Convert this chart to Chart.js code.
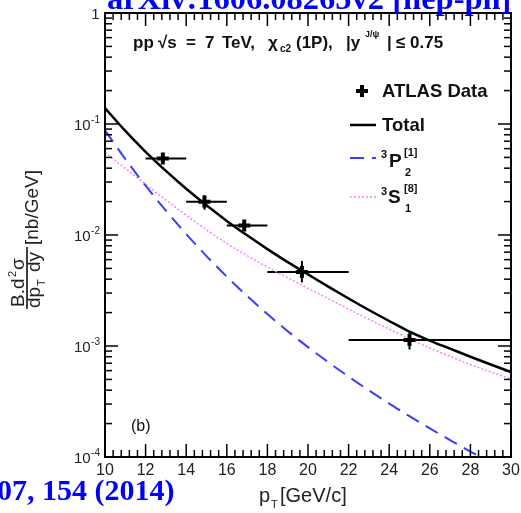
<!DOCTYPE html>
<html>
<head>
<meta charset="utf-8">
<script src="https://cdn.jsdelivr.net/npm/chart.js@4"></script>
<style>
  html, body { margin: 0; padding: 0; background: #fff; }
</style>
</head>
<body>
<canvas id="chart-output" width="521" height="513"></canvas>
<script>
// pT values where the theory curves are sampled
const ptGrid = [10, 11, 12, 13, 14, 15, 16, 17, 18, 19, 20, 21, 22, 23, 24, 25, 26, 27, 28, 29, 30];
// theory curves
const totalCurve = [0.1393, 0.0867, 0.0562, 0.0378, 0.0261, 0.0185, 0.0134, 0.00993, 0.00746, 0.0057, 0.00442, 0.00343, 0.00268, 0.00211, 0.00168, 0.00135, 0.00112, 0.000946, 0.0008, 0.000681, 0.000583];
const p2Curve = [0.0879, 0.0484, 0.0278, 0.0166, 0.0102, 0.00646, 0.00421, 0.00282, 0.00194, 0.00136, 0.000977, 0.000714, 0.00053, 0.000398, 0.000303, 0.000233, 0.000181, 0.000142, 0.000112, 0.0000895, 0.0000721];
const s1Curve = [0.0556, 0.0398, 0.0286, 0.0207, 0.01507, 0.01112, 0.00839, 0.00652, 0.00515, 0.00412, 0.00331, 0.00267, 0.00215, 0.00174, 0.00142, 0.00116, 0.000959, 0.000804, 0.000681, 0.000583, 0.000506];

// ATLAS data points
const dataPt = [12.85, 14.9, 16.86, 19.7, 25.0];
const dataPtLow = [12, 14, 16, 18, 22];
const dataPtHigh = [14, 16, 18, 22, 30];
const dataVal = [0.049, 0.0199, 0.0122, 0.00464, 0.00113];
const dataErrUp = [0.004, 0.003, 0.0012, 0.0012, 0.00022];
const dataErrDown = [0.004, 0.003, 0.0012, 0.0009, 0.0002];

// tick labels
const xTicks = [10, 12, 14, 16, 18, 20, 22, 24, 26, 28, 30];
const yTicks = [1, 0.1, 0.01, 0.001, 0.0001];
const yTickBase = ["1", "10", "10", "10", "10"];
const yTickExp = ["", "-1", "-2", "-3", "-4"];

const sans = '"Liberation Sans", Arial, Helvetica, sans-serif';
const serif = '"Liberation Serif", "Times New Roman", serif';
const blueDash = "#3b3bff";
const pinkDot = "#ff7fff";

// helper: draw a line segment
const seg = (ctx, x1, y1, x2, y2) => {
  ctx.beginPath();
  ctx.moveTo(x1, y1);
  ctx.lineTo(x2, y2);
  ctx.stroke();
};

// helper: draw text pieces at given x with font and baseline
const pieces = (ctx, list) => {
  for (let p of list) {
    ctx.font = p.font;
    ctx.fillText(p.t, p.x, p.y);
  }
};

// error bars for the data points, drawn under the markers
const errorBars = {
  id: "errorBars",
  beforeDatasetsDraw(chart) {
    const { ctx, scales } = chart;
    ctx.save();
    ctx.strokeStyle = "#000";
    ctx.lineWidth = 2;
    dataPt.forEach((pt, i) => {
      const y = scales.y.getPixelForValue(dataVal[i]);
      const x = scales.x.getPixelForValue(pt);
      seg(ctx, scales.x.getPixelForValue(dataPtLow[i]), y, scales.x.getPixelForValue(dataPtHigh[i]), y);
      seg(ctx, x, scales.y.getPixelForValue(dataVal[i] + dataErrUp[i]), x, scales.y.getPixelForValue(dataVal[i] - dataErrDown[i]));
    });
    ctx.restore();
  },
};

// frame, inward ticks, labels, legend and annotations (ROOT style)
const frame = {
  id: "frame",
  afterDraw(chart) {
    const { ctx, chartArea: a, scales } = chart;
    const xs = scales.x;
    const ys = scales.y;
    ctx.save();
    ctx.strokeStyle = "#000";
    ctx.fillStyle = "#000";

    // x ticks every 0.4, major every 2
    ctx.lineWidth = 1.5;
    for (let i = 0; i <= 50; i++) {
      const px = xs.getPixelForValue(10 + i * 0.4);
      const len = i % 5 === 0 ? 13 : 7;
      seg(ctx, px, a.bottom, px, a.bottom - len);
      seg(ctx, px, a.top, px, a.top + len);
    }
    // y ticks on the log scale
    for (let d = -4; d <= 0; d++) {
      for (let k = 1; k <= 9; k++) {
        const v = k * Math.pow(10, d);
        if (v > 1.0001) break;
        const py = ys.getPixelForValue(v);
        const len = k === 1 ? 13 : 7;
        seg(ctx, a.left, py, a.left + len, py);
        seg(ctx, a.right, py, a.right - len, py);
      }
    }
    // frame
    ctx.lineWidth = 2;
    ctx.strokeRect(a.left, a.top, a.right - a.left, a.bottom - a.top);

    // x tick labels
    ctx.fillStyle = "#222";
    ctx.font = "16px " + sans;
    ctx.textAlign = "center";
    ctx.textBaseline = "middle";
    for (let v of xTicks) {
      ctx.fillText(String(v), xs.getPixelForValue(v), 471);
    }

    // y tick labels with superscript exponents
    ctx.textAlign = "left";
    yTicks.forEach((v, i) => {
      const py = ys.getPixelForValue(v);
      const right = 100;
      ctx.font = "10px " + sans;
      const ew = ctx.measureText(yTickExp[i]).width;
      ctx.textBaseline = "alphabetic";
      ctx.fillText(yTickExp[i], right - ew, py - 1);
      ctx.font = "15px " + sans;
      const bw = ctx.measureText(yTickBase[i]).width;
      ctx.textBaseline = "middle";
      ctx.fillText(yTickBase[i], right - ew - bw - 0.5, py + 2);
    });

    // x axis title
    ctx.textBaseline = "alphabetic";
    pieces(ctx, [
      { t: "p", x: 259, y: 502, font: "20px " + sans },
      { t: "T", x: 271, y: 508, font: "11px " + sans },
      { t: "[GeV/c]", x: 280, y: 502, font: "20px " + sans },
    ]);

    // y axis title, rotated fraction
    ctx.save();
    ctx.translate(27, 278);
    ctx.rotate(-Math.PI / 2);
    ctx.lineWidth = 1.5;
    seg(ctx, -31, 0, 31, 0);
    pieces(ctx, [
      { t: "B.d", x: -29, y: -3, font: "19px " + sans },
      { t: "2", x: 1, y: -11, font: "11px " + sans },
      { t: "σ", x: 8, y: -3, font: "19px " + sans },
      { t: "dp", x: -30, y: 13, font: "19px " + sans },
      { t: "T", x: -8, y: 18, font: "11px " + sans },
      { t: "dy", x: 6, y: 13, font: "19px " + sans },
      { t: "[nb/GeV]", x: 33, y: 11, font: "19px " + sans },
    ]);
    ctx.restore();

    // header text inside the frame
    ctx.fillStyle = "#111";
    const hb = "bold 17px " + sans;
    const hs = "bold 10px " + sans;
    pieces(ctx, [
      { t: "pp", x: 133, y: 48, font: hb },
      { t: "√s", x: 158, y: 48, font: hb },
      { t: "=", x: 186, y: 48, font: hb },
      { t: "7", x: 205, y: 48, font: hb },
      { t: "TeV,", x: 222, y: 48, font: hb },
      { t: "χ", x: 268, y: 48, font: hb },
      { t: "c2", x: 280, y: 52, font: hs },
      { t: "(1P),", x: 296, y: 48, font: hb },
      { t: "|y", x: 346, y: 48, font: hb },
      { t: "J/ψ", x: 365, y: 37, font: "bold 9px " + sans },
      { t: "|", x: 387, y: 48, font: hb },
      { t: "≤ 0.75", x: 396, y: 48, font: hb },
    ]);

    // legend
    ctx.strokeStyle = "#000";
    ctx.lineWidth = 4;
    seg(ctx, 356, 91, 368, 91);
    seg(ctx, 362, 85, 362, 97);
    const lb = "bold 18.5px " + sans;
    const ls = "bold 11px " + sans;
    pieces(ctx, [
      { t: "ATLAS Data", x: 382, y: 97, font: lb },
      { t: "Total", x: 382, y: 131, font: lb },
      { t: "3", x: 381, y: 158, font: ls },
      { t: "P", x: 389, y: 167, font: "bold 19px " + sans },
      { t: "[1]", x: 404, y: 156, font: ls },
      { t: "2", x: 405, y: 176, font: ls },
      { t: "3", x: 381, y: 195, font: ls },
      { t: "S", x: 388, y: 203, font: "bold 19px " + sans },
      { t: "[8]", x: 404, y: 192, font: ls },
      { t: "1", x: 405, y: 212, font: ls },
    ]);
    ctx.lineWidth = 2.5;
    seg(ctx, 350, 125, 376, 125);
    ctx.strokeStyle = blueDash;
    ctx.lineWidth = 2;
    ctx.setLineDash([14, 8]);
    seg(ctx, 350, 158, 376, 158);
    ctx.strokeStyle = pinkDot;
    ctx.lineWidth = 1.5;
    ctx.setLineDash([2, 2]);
    seg(ctx, 350, 197, 376, 197);
    ctx.setLineDash([]);

    // panel tag
    ctx.fillStyle = "#111";
    ctx.font = "16px " + sans;
    ctx.textBaseline = "middle";
    ctx.fillText("(b)", 131, 427);

    // stamps around the figure
    ctx.fillStyle = "#0000ff";
    ctx.textBaseline = "alphabetic";
    ctx.font = "bold 32.5px " + serif;
    ctx.fillText("arXiv:1606.08265v2 [hep-ph]", 107, 9);
    ctx.font = "bold 30px " + serif;
    ctx.fillText("07, 154 (2014)", -3, 500);
    ctx.restore();
  },
};

const toXY = (ys) => ptGrid.map((x, i) => ({ x: x, y: ys[i] }));

const ctx = document.querySelector("#chart-output").getContext("2d");
new Chart(ctx, {
  type: "line",
  data: {
    datasets: [
      {
        type: "scatter",
        label: "ATLAS Data",
        data: dataPt.map((x, i) => ({ x: x, y: dataVal[i] })),
        pointStyle: "cross",
        pointRadius: 6,
        pointBorderWidth: 4,
        pointBorderColor: "#000",
        pointBackgroundColor: "#000",
      },
      {
        label: "Total",
        data: toXY(totalCurve),
        borderColor: "#000",
        borderWidth: 2.5,
        pointRadius: 0,
        cubicInterpolationMode: "monotone",
      },
      {
        label: "3P2[1]",
        data: toXY(p2Curve),
        borderColor: blueDash,
        borderWidth: 2,
        borderDash: [14, 8],
        pointRadius: 0,
        cubicInterpolationMode: "monotone",
      },
      {
        label: "3S1[8]",
        data: toXY(s1Curve),
        borderColor: pinkDot,
        borderWidth: 1.5,
        borderDash: [2, 2],
        pointRadius: 0,
        cubicInterpolationMode: "monotone",
      },
    ],
  },
  options: {
    responsive: false,
    animation: false,
    events: [],
    layout: { padding: { left: 105, right: 8, top: 13, bottom: 56 } },
    plugins: {
      legend: { display: false },
      tooltip: { enabled: false },
    },
    scales: {
      x: { type: "linear", min: 10, max: 30, display: false },
      y: { type: "logarithmic", min: 0.0001, max: 1, display: false },
    },
  },
  plugins: [errorBars, frame],
});
</script>
</body>
</html>
